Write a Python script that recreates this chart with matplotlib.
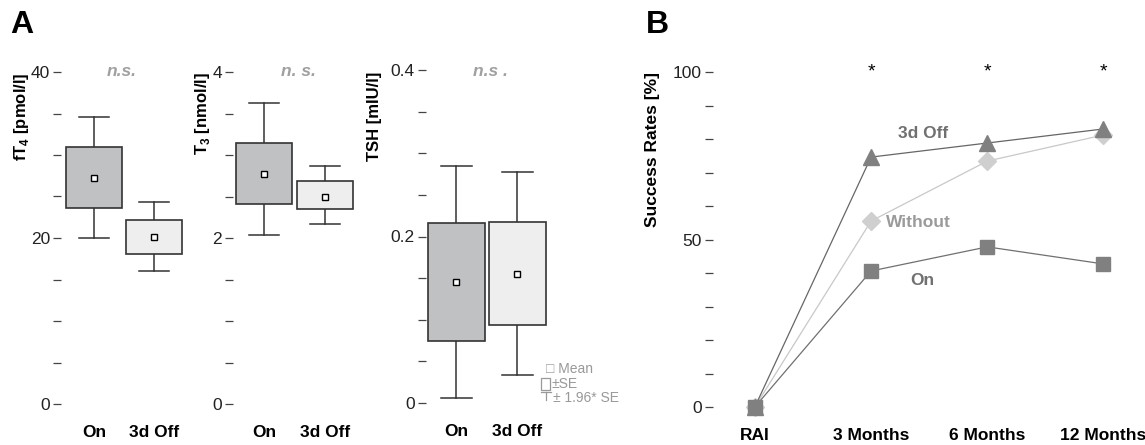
import matplotlib
matplotlib.use("Agg")
import matplotlib.pyplot as plt
from matplotlib.patches import Rectangle
from matplotlib.lines import Line2D
from matplotlib.ticker import MultipleLocator

plt.rcParams['font.family'] = ['Liberation Sans', 'DejaVu Sans']
plt.rcParams['mathtext.fontset'] = 'custom'
plt.rcParams['mathtext.rm'] = 'Liberation Sans'
plt.rcParams['mathtext.bf'] = 'Liberation Sans:bold'

# data
groups = ['On', '3d Off']

ft4_mean = [27.2, 20.1]
ft4_se_lo = [23.6, 18.1]
ft4_se_hi = [31.0, 22.2]
ft4_ci_lo = [20.0, 16.0]
ft4_ci_hi = [34.6, 24.3]

t3_mean = [2.77, 2.50]
t3_se_lo = [2.41, 2.35]
t3_se_hi = [3.14, 2.69]
t3_ci_lo = [2.04, 2.17]
t3_ci_hi = [3.63, 2.87]

tsh_mean = [0.145, 0.155]
tsh_se_lo = [0.0745, 0.094]
tsh_se_hi = [0.216, 0.217]
tsh_ci_lo = [0.006, 0.034]
tsh_ci_hi = [0.285, 0.277]

timepoints = ['RAI', '3 Months', '6 Months', '12 Months']
rate_off = [0, 74.6, 78.8, 83.0]
rate_without = [0, 55.5, 73.4, 81.2]
rate_on = [0, 40.6, 47.8, 42.7]

W, H = 1145, 445
fig = plt.figure(figsize=(W / 100, H / 100), dpi=100)


def axpos(l, r, b, t):
    return [l / W, 1 - b / H, (r - l) / W, (b - t) / H]


def fx(px):
    return px / W


def fy(py):
    return 1 - py / H


box_colors = ['#c0c1c3', '#eeeeee']
edge = '#333333'
tickcol = '#444444'
FS = 12.5


def style_axis(ax, major, minor, fmt=None):
    for s in ax.spines.values():
        s.set_visible(False)
    ax.yaxis.set_major_locator(MultipleLocator(major))
    ax.yaxis.set_minor_locator(MultipleLocator(minor))
    ax.tick_params(axis='y', which='both', length=6, width=0.9, color=tickcol,
                   labelsize=FS, pad=2, labelcolor='#222222')
    ax.tick_params(axis='x', length=0, pad=15, labelsize=FS)
    for lab in ax.get_xticklabels():
        lab.set_fontweight('bold')
    if fmt is not None:
        ax.yaxis.set_major_formatter(fmt)


def boxpanel(ax, mean, se_lo, se_hi, ci_lo, ci_hi, ylim, major, minor, fmt=None):
    for i in range(len(groups)):
        ax.plot([i, i], [ci_lo[i], se_lo[i]], color=edge, lw=1.1, clip_on=False)
        ax.plot([i, i], [se_hi[i], ci_hi[i]], color=edge, lw=1.1, clip_on=False)
        ax.plot([i - 0.25, i + 0.25], [ci_lo[i], ci_lo[i]], color=edge, lw=1.1, clip_on=False)
        ax.plot([i - 0.25, i + 0.25], [ci_hi[i], ci_hi[i]], color=edge, lw=1.1, clip_on=False)
        ax.add_patch(Rectangle((i - 0.465, se_lo[i]), 0.93, se_hi[i] - se_lo[i],
                               facecolor=box_colors[i], edgecolor=edge, lw=1.2, zorder=3))
        ax.plot(i, mean[i], 's', ms=4.5, mfc='white', mec='black', mew=1.0, zorder=4)
    ax.set_ylim(*ylim)
    ax.set_xticks(range(len(groups)))
    ax.set_xticklabels(groups)
    style_axis(ax, major, minor, fmt)


ax1 = fig.add_axes(axpos(61, 190, 404, 72))
ax1.set_xlim(-0.55, 1.6)
boxpanel(ax1, ft4_mean, ft4_se_lo, ft4_se_hi, ft4_ci_lo, ft4_ci_hi, (0, 40), 20, 5)

ax2 = fig.add_axes(axpos(233, 358, 404, 72))
ax2.set_xlim(-0.52, 1.55)
boxpanel(ax2, t3_mean, t3_se_lo, t3_se_hi, t3_ci_lo, t3_ci_hi, (0, 4), 2, 0.5)

ax3 = fig.add_axes(axpos(426, 554, 403, 70))
ax3.set_xlim(-0.5, 1.6)
boxpanel(ax3, tsh_mean, tsh_se_lo, tsh_se_hi, tsh_ci_lo, tsh_ci_hi, (0, 0.4), 0.2, 0.05,
         fmt=plt.FuncFormatter(lambda v, p: '0' if v == 0 else '%.1f' % v))

# y labels
fig.text(fx(22), fy(72), r'fT$_\mathbf{4}$ [pmol/l]', rotation=90, ha='center', va='top',
         fontsize=12, fontweight='bold')
fig.text(fx(203), fy(72), r'T$_\mathbf{3}$ [nmol/l]', rotation=90, ha='center', va='top',
         fontsize=12, fontweight='bold')
fig.text(fx(375), fy(72), 'TSH [mIU/l]', rotation=90, ha='center', va='top',
         fontsize=12, fontweight='bold')

# n.s. labels
for xp, s in [(122, 'n.s.'), (298, 'n. s.'), (490, 'n.s .')]:
    fig.text(fx(xp), fy(72), s, ha='center', va='center', fontsize=12.5,
             fontweight='bold', fontstyle='italic', color='#a0a0a0')

# small legend in panel A
lg = '#999999'
fig.text(fx(546), fy(369), '\u25a1 Mean', ha='left', va='center', fontsize=10, color=lg)
fig.add_artist(Rectangle((fx(541), fy(390)), fx(9), 12 / H, transform=fig.transFigure,
                         facecolor='none', edgecolor=lg, lw=0.9))
fig.text(fx(551), fy(384), '\u00b1SE', ha='left', va='center', fontsize=10, color=lg)
fig.add_artist(Line2D([fx(541), fx(551)], [fy(392), fy(392)], transform=fig.transFigure,
                      color=lg, lw=0.9))
fig.add_artist(Line2D([fx(546), fx(546)], [fy(392), fy(400)], transform=fig.transFigure,
                      color=lg, lw=0.9))
fig.text(fx(553), fy(398), '\u00b1 1.96* SE', ha='left', va='center', fontsize=10, color=lg)

# panel B
axb = fig.add_axes(axpos(713, 1143, 407, 72))
x = range(len(timepoints))
axb.plot(x, rate_without, '-', color='#c8c8c8', lw=0.9, marker='D', ms=9,
         mfc='#cfcfcf', mec='#cfcfcf', clip_on=False, zorder=3)
axb.plot(x, rate_off, '-', color='#666666', lw=0.9, marker='^', ms=11,
         mfc='#808080', mec='#808080', clip_on=False, zorder=4)
axb.plot(x, rate_on, '-', color='#707070', lw=0.9, marker='s', ms=9.5,
         mfc='#808080', mec='#808080', clip_on=False, zorder=5)
axb.set_xlim(-0.36, 3.34)
axb.set_ylim(0, 100)
axb.set_xticks(list(x))
axb.set_xticklabels(timepoints)
style_axis(axb, 50, 10)
for xi in [1, 2, 3]:
    axb.text(xi, 100, '*', ha='center', va='center', fontsize=14)
axb.text(1.45, 81.5, '3d Off', ha='center', va='center', fontsize=12.5,
         fontweight='bold', color='#707070')
axb.text(1.41, 55, 'Without', ha='center', va='center', fontsize=12.5,
         fontweight='bold', color='#9a9a9a')
axb.text(1.44, 37.7, 'On', ha='center', va='center', fontsize=12.5,
         fontweight='bold', color='#707070')
fig.text(fx(653), fy(72), 'Success Rates [%]', rotation=90, ha='center', va='top',
         fontsize=12.5, fontweight='bold')

# panel letters
fig.text(fx(10), fy(33), 'A', ha='left', va='baseline', fontsize=23, fontweight='bold')
fig.text(fx(646), fy(33), 'B', ha='left', va='baseline', fontsize=23, fontweight='bold')

fig.savefig('out.png', dpi=100)
